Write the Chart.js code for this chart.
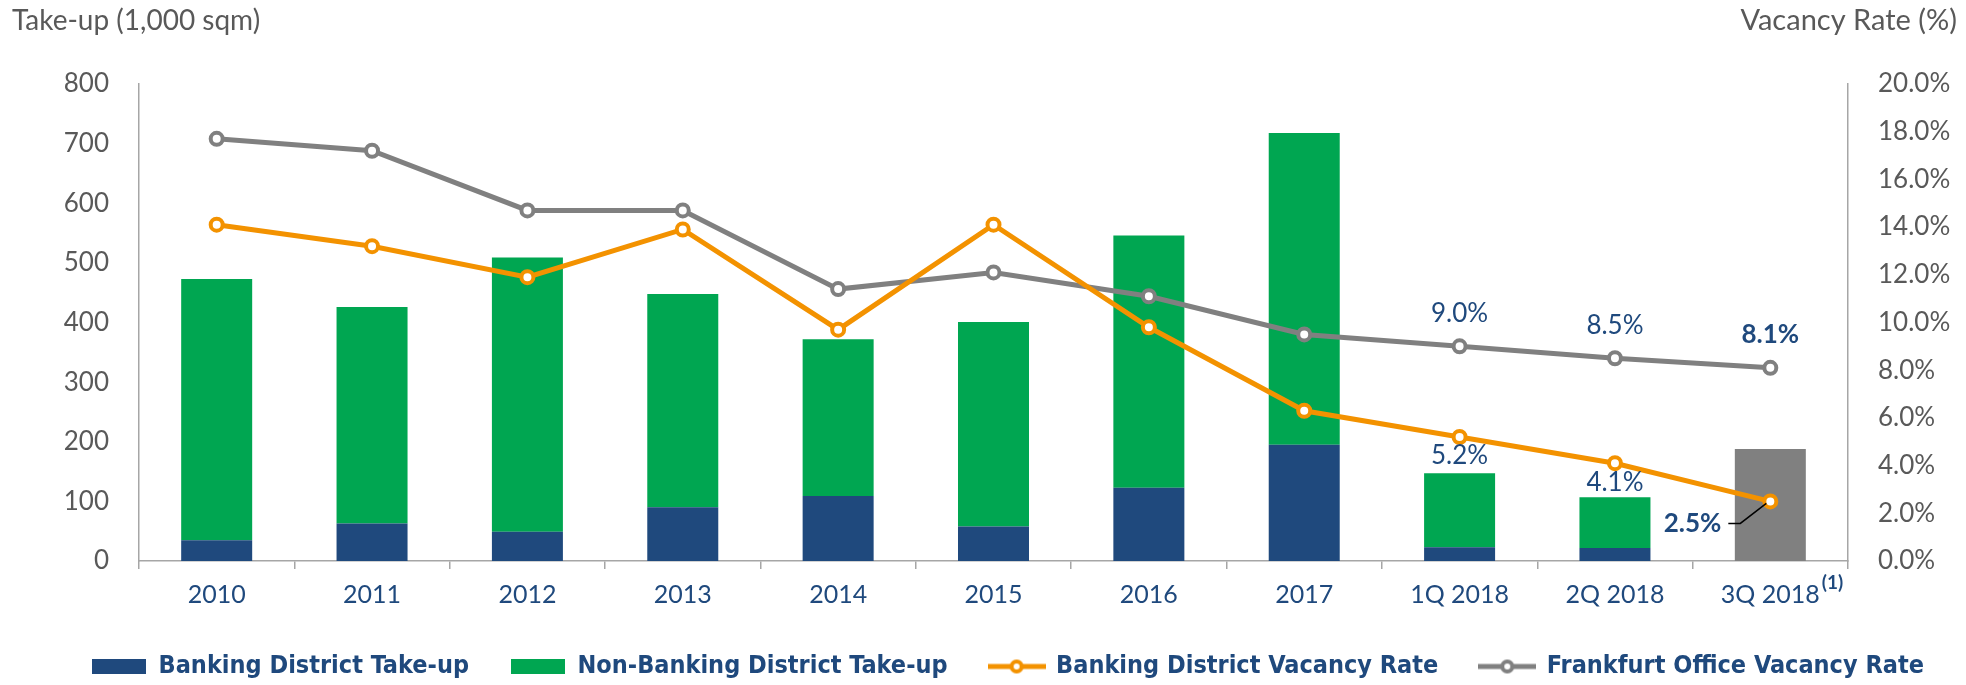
<!DOCTYPE html>
<html>
<head>
<meta charset="utf-8">
<script src="https://cdn.jsdelivr.net/npm/chart.js@4.4.1/dist/chart.umd.min.js"></script>
<style>
  html, body { margin: 0; padding: 0; background: #fff; }
</style>
</head>
<body>
<canvas id="chart" width="1966" height="685"></canvas>
<script>
const categories = ["2010", "2011", "2012", "2013", "2014", "2015", "2016", "2017", "1Q 2018", "2Q 2018", "3Q 2018"];
const bankingTakeUp = [35, 63, 49, 90, 109, 58, 123, 195, 23, 22, null];
const nonBankingTakeUp = [438, 363, 460, 358, 263, 343, 423, 523, 124, 85, null];
const totalTakeUp = [null, null, null, null, null, null, null, null, null, null, 188];
const bankingVacancy = [14.1, 13.2, 11.9, 13.9, 9.7, 14.1, 9.8, 6.3, 5.2, 4.1, 2.5];
const frankfurtVacancy = [17.7, 17.2, 14.7, 14.7, 11.4, 12.1, 11.1, 9.5, 9.0, 8.5, 8.1];
const labelledPoints = [8, 9, 10];

const FONT = "Lato, 'Noto Sans', sans-serif";
const LEGEND_FONT = "'DejaVu Sans Condensed', 'Liberation Sans Narrow', Roboto, sans-serif";
const BLUE = "#1F497D";
const GREEN = "#00A651";
const ORANGE = "#F39200";
const GRAY = "#808080";
const AXIS = "#A6A6A6";
const TEXT = "#595959";

function pct(v) { return v.toFixed(1) + "%"; }

// legend icons
function boxIcon(color) {
  const c = document.createElement("canvas");
  c.width = 54; c.height = 15;
  const g = c.getContext("2d");
  g.fillStyle = color;
  g.fillRect(0, 0, 54, 15);
  return c;
}
function lineIcon(color) {
  const c = document.createElement("canvas");
  c.width = 58; c.height = 18;
  const g = c.getContext("2d");
  g.strokeStyle = color;
  g.lineWidth = 5;
  g.beginPath(); g.moveTo(0, 9); g.lineTo(58, 9); g.stroke();
  g.fillStyle = "#fff";
  g.lineWidth = 4;
  g.beginPath(); g.arc(29, 9, 5, 0, Math.PI * 2); g.fill(); g.stroke();
  return c;
}
const icons = { 0: boxIcon(BLUE), 1: boxIcon(GREEN), 3: lineIcon(ORANGE), 4: lineIcon(GRAY) };

const annotate = {
  id: "annotate",
  afterLayout(chart) {
    // legend in the original sits a little right of centre and lower
    chart.legend.left += 25;
    chart.legend.right += 25;
    chart.legend.top += 4;
    chart.legend.bottom += 4;
  },
  afterDraw(chart) {
    const ctx = chart.ctx;
    ctx.save();
    ctx.textBaseline = "middle";

    // axis titles
    ctx.font = "28px " + FONT;
    ctx.fillStyle = TEXT;
    ctx.textAlign = "left";
    ctx.fillText("Take-up (1,000 sqm)", 12, 21);
    ctx.font = "29px " + FONT;
    ctx.textAlign = "right";
    ctx.fillText("Vacancy Rate (%)", 1957, 21);

    const last = categories.length - 1;
    const grayMeta = chart.getDatasetMeta(4);
    const orangeMeta = chart.getDatasetMeta(3);
    ctx.fillStyle = BLUE;
    ctx.textAlign = "center";
    labelledPoints.forEach(i => {
      ctx.font = (i === last ? "bold " : "") + "26px " + FONT;
      const p = grayMeta.data[i];
      ctx.fillText(pct(frankfurtVacancy[i]), p.x, p.y - 33);
      if (i !== last) {
        const q = orangeMeta.data[i];
        ctx.fillText(pct(bankingVacancy[i]), q.x, q.y + 19);
      }
    });

    // 2.5% with leader line
    const q = orangeMeta.data[last];
    ctx.font = "bold 26px " + FONT;
    ctx.textAlign = "right";
    ctx.fillText(pct(bankingVacancy[last]), q.x - 49, q.y + 22);
    ctx.strokeStyle = "#000";
    ctx.lineWidth = 1.5;
    ctx.beginPath();
    ctx.moveTo(q.x - 42, q.y + 22);
    ctx.lineTo(q.x - 30, q.y + 22);
    ctx.lineTo(q.x - 4, q.y + 2);
    ctx.stroke();

    // footnote marker on last category
    const xs = chart.scales.x;
    const tx = xs.getPixelForTick(last);
    ctx.font = "25px " + FONT;
    const w = ctx.measureText(categories[last]).width;
    ctx.font = "bold 19px " + FONT;
    ctx.textAlign = "left";
    ctx.fillText("(1)", tx + w / 2 + 2, xs.top + 22);
    ctx.restore();
  }
};

new Chart(document.getElementById("chart").getContext("2d"), {
  type: "bar",
  data: {
    labels: categories,
    datasets: [
      { label: "Banking District Take-up", data: bankingTakeUp, backgroundColor: BLUE, yAxisID: "y", order: 1 },
      { label: "Non-Banking District Take-up", data: nonBankingTakeUp, backgroundColor: GREEN, yAxisID: "y", order: 1 },
      { label: "Take-up", data: totalTakeUp, backgroundColor: GRAY, yAxisID: "y", order: 1 },
      {
        type: "line", label: "Banking District Vacancy Rate", data: bankingVacancy, yAxisID: "y1", order: 0,
        borderColor: ORANGE, borderWidth: 5, pointRadius: 6, pointBorderWidth: 4,
        pointBackgroundColor: "#fff", pointBorderColor: ORANGE, tension: 0
      },
      {
        type: "line", label: "Frankfurt Office Vacancy Rate", data: frankfurtVacancy, yAxisID: "y1", order: 0,
        borderColor: GRAY, borderWidth: 5, pointRadius: 6, pointBorderWidth: 4,
        pointBackgroundColor: "#fff", pointBorderColor: GRAY, tension: 0
      }
    ]
  },
  options: {
    responsive: false,
    animation: false,
    layout: { padding: { top: 84, left: 0, right: 0, bottom: 0 } },
    datasets: { bar: { categoryPercentage: 1, barPercentage: 0.457 } },
    plugins: {
      tooltip: { enabled: false },
      legend: {
        position: "bottom",
        labels: {
          usePointStyle: true,
          pointStyleWidth: 54,
          padding: 42,
          color: BLUE,
          font: { family: LEGEND_FONT, size: 25, weight: "bold" },
          generateLabels(chart) {
            return [0, 1, 3, 4].map(i => ({
              text: chart.data.datasets[i].label,
              pointStyle: icons[i],
              fontColor: BLUE,
              fillStyle: "transparent",
              strokeStyle: "transparent",
              lineWidth: 0,
              datasetIndex: i
            }));
          }
        }
      }
    },
    scales: {
      x: {
        stacked: true,
        grid: { display: true, drawOnChartArea: false, tickLength: 8, color: AXIS, lineWidth: 1.5, offset: true },
        border: { display: true, color: AXIS, width: 1.5 },
        ticks: { color: BLUE, font: { family: FONT, size: 25 }, padding: 11, maxRotation: 0, autoSkip: false },
        afterFit(s) { s.height = 47; }
      },
      y: {
        stacked: true,
        position: "left",
        min: 0, max: 800,
        grid: { display: false },
        border: { display: true, color: AXIS, width: 1.5 },
        ticks: { stepSize: 100, color: TEXT, font: { family: FONT, size: 26 }, padding: 22 },
        afterFit(s) { s.width = 139; }
      },
      y1: {
        position: "right",
        min: 0, max: 20,
        grid: { display: false },
        border: { display: true, color: AXIS, width: 1.5 },
        ticks: { stepSize: 2, color: TEXT, font: { family: FONT, size: 26 }, padding: 22, callback: v => pct(v) },
        afterFit(s) { s.width = 118; }
      }
    }
  },
  plugins: [annotate]
});
</script>
</body>
</html>
